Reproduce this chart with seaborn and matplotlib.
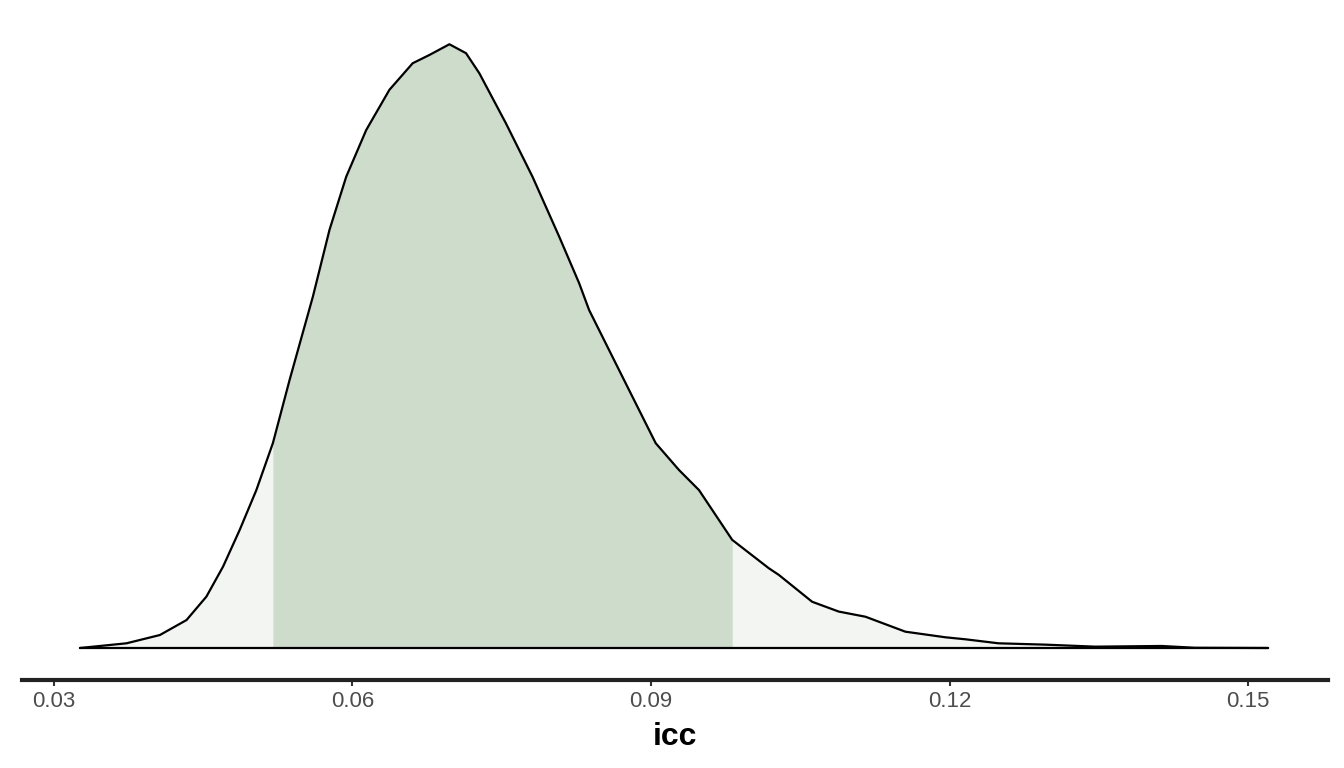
import numpy as np
import pandas as pd
import seaborn as sns
import matplotlib
matplotlib.use("Agg")
import matplotlib.pyplot as plt

# density curve of icc
icc = [0.03261, 0.03729, 0.04064, 0.04332, 0.04532, 0.04699, 0.04866, 0.05034, 0.05200,
       0.05368, 0.05602, 0.05769, 0.05937, 0.06138, 0.06371, 0.06605, 0.06773, 0.06974,
       0.07141, 0.07275, 0.07542, 0.07809, 0.08077, 0.08278, 0.08378, 0.08712, 0.09047,
       0.09281, 0.09482, 0.09816, 0.10184, 0.10285, 0.10619, 0.10887, 0.11155, 0.11556,
       0.11957, 0.12158, 0.12492, 0.12961, 0.13462, 0.14131, 0.14465, 0.15201]
density = [0.0, 0.21, 0.58, 1.25, 2.30, 3.64, 5.28, 7.07, 9.17,
           12.0, 15.73, 18.72, 21.10, 23.19, 24.99, 26.18, 26.55, 27.03,
           26.63, 25.73, 23.49, 21.10, 18.42, 16.33, 15.13, 12.15, 9.17,
           7.97, 7.07, 4.84, 3.57, 3.27, 2.07, 1.63, 1.40, 0.73,
           0.48, 0.39, 0.21, 0.15, 0.06, 0.09, 0.01, 0.0]
interval = [0.05200, 0.09816]
ticks = [0.03, 0.06, 0.09, 0.12, 0.15]
tick_labels = ["0.03", "0.06", "0.09", "0.12", "0.15"]

df = pd.DataFrame({"icc": icc, "density": density})

sns.set_theme(style="white")
plt.rcParams['font.family'] = ['Liberation Sans', 'DejaVu Sans']

fig = plt.figure(figsize=(13.44, 7.68), dpi=100)
ax = fig.add_axes([22/1344, 1-680/768, (1328-22)/1344, (680-15)/768])

x = df["icc"].to_numpy()
y = df["density"].to_numpy()
ax.fill_between(x, 0, y, color="#f3f5f2", linewidth=0)
m = (x >= interval[0]) & (x <= interval[1])
ax.fill_between(x[m], 0, y[m], color="#cddccb", linewidth=0)
sns.lineplot(data=df, x="icc", y="density", ax=ax, color="black", linewidth=1.6, sort=False)
ax.plot([x.min(), x.max()], [0, 0], color="black", linewidth=1.6)

ax.set_xlim(0.02679, 0.15803)
ax.set_ylim(-1.433, 28.34)
ax.set_yticks([])
ax.set_ylabel("")
ax.set_xticks(ticks)
ax.set_xticklabels(tick_labels)
ax.set_xlabel("icc", fontsize=23, fontweight="bold", color="black", labelpad=7)
for s in ["top", "left", "right"]:
    ax.spines[s].set_visible(False)
ax.spines["bottom"].set_linewidth(3)
ax.spines["bottom"].set_color("#222222")
ax.tick_params(axis="x", bottom=True, length=4, width=1.5, color="#333333",
               labelsize=16, labelcolor="#4d4d4d", pad=4)
ax.set_facecolor("white")
fig.savefig("out.png", dpi=100)
